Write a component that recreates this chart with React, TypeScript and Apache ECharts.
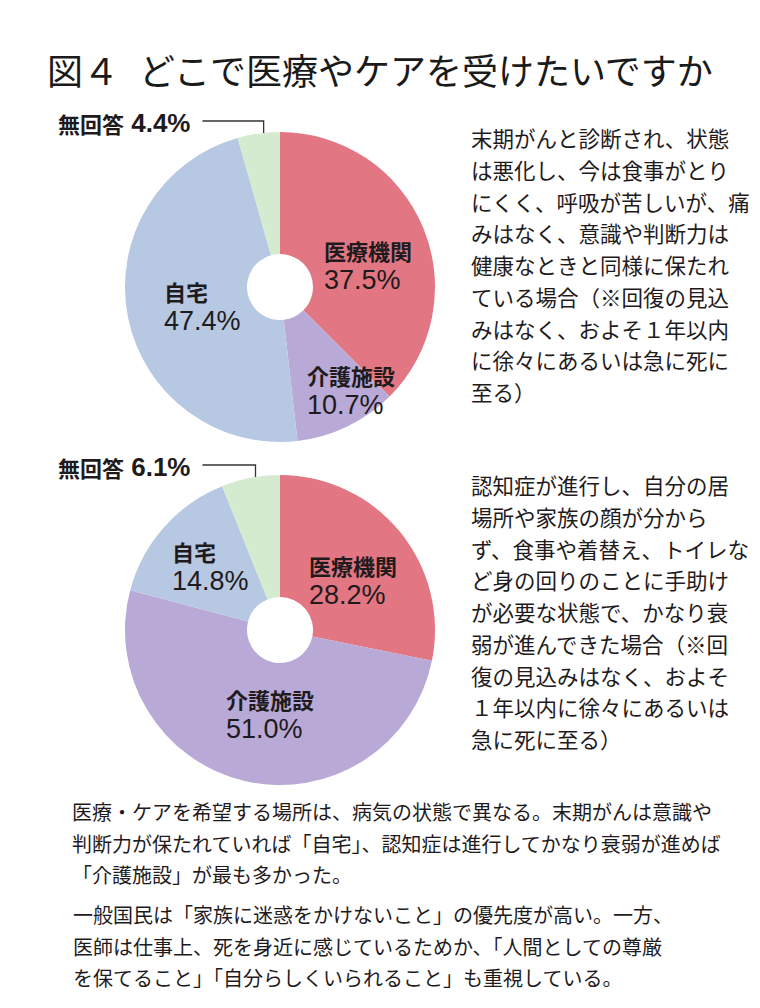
import React, { useEffect, useRef } from 'react';
import * as echarts from 'echarts';

// ---- data ----
const categories = ['医療機関', '介護施設', '自宅', '無回答'];
const cancerValues = [37.5, 10.7, 47.4, 4.4];
const dementiaValues = [28.2, 51.0, 14.8, 6.1];

const titleLead = '図４';
const titleMain = 'どこで医療やケアを受けたいですか';

const cancerCaption = [
  '末期がんと診断され、状態',
  'は悪化し、今は食事がとり',
  'にくく、呼吸が苦しいが、痛',
  'みはなく、意識や判断力は',
  '健康なときと同様に保たれ',
  'ている場合（※回復の見込',
  'みはなく、およそ１年以内',
  'に徐々にあるいは急に死に',
  '至る）',
];
const dementiaCaption = [
  '認知症が進行し、自分の居',
  '場所や家族の顔が分から',
  'ず、食事や着替え、トイレな',
  'ど身の回りのことに手助け',
  'が必要な状態で、かなり衰',
  '弱が進んできた場合（※回',
  '復の見込みはなく、およそ',
  '１年以内に徐々にあるいは',
  '急に死に至る）',
];
const summaryPara1 = [
  '医療・ケアを希望する場所は、病気の状態で異なる。末期がんは意識や',
  '判断力が保たれていれば「自宅」、認知症は進行してかなり衰弱が進めば',
  '「介護施設」が最も多かった。',
];
const summaryPara2 = [
  '一般国民は「家族に迷惑をかけないこと」の優先度が高い。一方、',
  '医師は仕事上、死を身近に感じているためか、「人間としての尊厳',
  'を保てること」「自分らしくいられること」も重視している。',
];

// ---- styling / layout ----
const COLORS = ['#e27682', '#b9a9d6', '#b7c8e3', '#d5ebd0'];
const TEXT = '#1f1b1c';
const JP = "'Noto Sans CJK JP', 'Noto Sans', sans-serif";
const LATIN = "'Liberation Sans', Arial, sans-serif";
const OTHER = '無回答';

const LABEL_POS_1: Record<string, number[]> = {
  医療機関: [324, 235],
  介護施設: [307, 360],
  自宅: [164, 276],
  無回答: [58, 123],
};
const LABEL_POS_2: Record<string, number[]> = {
  医療機関: [309, 550],
  介護施設: [226, 684],
  自宅: [172, 536],
  無回答: [58, 467],
};

const rich = {
  n: { fontSize: 22, fontWeight: 'bold', lineHeight: 30, color: TEXT, fontFamily: JP },
  v: { fontSize: 27, lineHeight: 30, color: TEXT, fontFamily: LATIN },
  o: { fontSize: 22, fontWeight: 'bold', lineHeight: 30, color: TEXT, fontFamily: JP },
  ov: { fontSize: 26, fontWeight: 'bold', lineHeight: 30, color: TEXT, fontFamily: LATIN },
};

function makePie(values: number[], center: number[], pos: Record<string, number[]>) {
  return {
    type: 'pie',
    center,
    radius: [33, 155],
    startAngle: 90,
    clockwise: true,
    avoidLabelOverlap: false,
    silent: true,
    itemStyle: { borderWidth: 0 },
    label: {
      show: true,
      position: 'inside',
      color: TEXT,
      fontSize: 22,
      rich,
      formatter: (p: any) =>
        p.name === OTHER
          ? `{o|${p.name}}{ov| ${Number(p.value).toFixed(1)}%}`
          : `{n|${p.name}}\n{v|${Number(p.value).toFixed(1)}%}`,
    },
    labelLine: { show: false },
    labelLayout: (params: any) => {
      const name = categories[params.dataIndex];
      const p = pos[name];
      if (name === OTHER) {
        const res: any = { x: p[0], y: p[1], align: 'left', verticalAlign: 'middle' };
        const pts = params.labelLinePoints;
        if (pts && pts.length) {
          const sx = pts[0][0] + 5;
          const sy = pts[0][1] + 9;
          const ly = p[1] - 2;
          const right = p[0] + params.labelRect.width + 12;
          res.labelLinePoints = [
            [sx, sy],
            [sx, ly],
            [right, ly],
          ];
        }
        return res;
      }
      return { x: p[0], y: p[1], align: 'left', verticalAlign: 'top' };
    },
    data: categories.map((name, i) => ({
      name,
      value: values[i],
      itemStyle: { color: COLORS[i] },
      ...(name === OTHER
        ? {
            label: { position: 'outside' },
            labelLine: {
              show: true,
              length: 10,
              length2: 20,
              lineStyle: { color: '#333', width: 1.3 },
            },
          }
        : {}),
    })),
  };
}

export default function App() {
  const ref = useRef<HTMLDivElement>(null);
  useEffect(() => {
    if (!ref.current) return;
    const chart = echarts.init(ref.current, undefined, { renderer: 'svg' });
    const bodyText = { fontSize: 20, lineHeight: 31.5, color: TEXT, fontFamily: JP, fontWeight: 'normal' };
    const capText = { fontSize: 21.5, lineHeight: 31.7, color: TEXT, fontFamily: JP, fontWeight: 'normal' };
    chart.setOption({
      animation: false,
      backgroundColor: '#ffffff',
      title: [
        {
          text: `{a|${titleLead}}{b|${titleMain}}`,
          left: 47,
          top: 47,
          padding: 0,
          textStyle: {
            rich: {
              a: { fontSize: 36, lineHeight: 44, color: '#1a1a1a', fontFamily: JP, fontWeight: 'normal' },
              b: { fontSize: 36, lineHeight: 44, color: '#1a1a1a', fontFamily: JP, fontWeight: 'normal', padding: [0, 0, 0, 20] },
            },
          },
        },
        { text: cancerCaption.join('\n'), left: 471, top: 122, padding: 0, textStyle: capText },
        { text: dementiaCaption.join('\n'), left: 471, top: 469, padding: 0, textStyle: capText },
        { text: summaryPara1.join('\n'), left: 72, top: 796, padding: 0, textStyle: bodyText },
        { text: summaryPara2.join('\n'), left: 73, top: 899, padding: 0, textStyle: bodyText },
      ],
      series: [
        makePie(cancerValues, [280, 287], LABEL_POS_1),
        makePie(dementiaValues, [280, 630], LABEL_POS_2),
      ],
    });
    return () => chart.dispose();
  }, []);
  return (
    <div
      ref={ref}
      style={{ position: 'fixed', left: 0, top: 0, width: 760, height: 1008, background: '#fff' }}
    />
  );
}
